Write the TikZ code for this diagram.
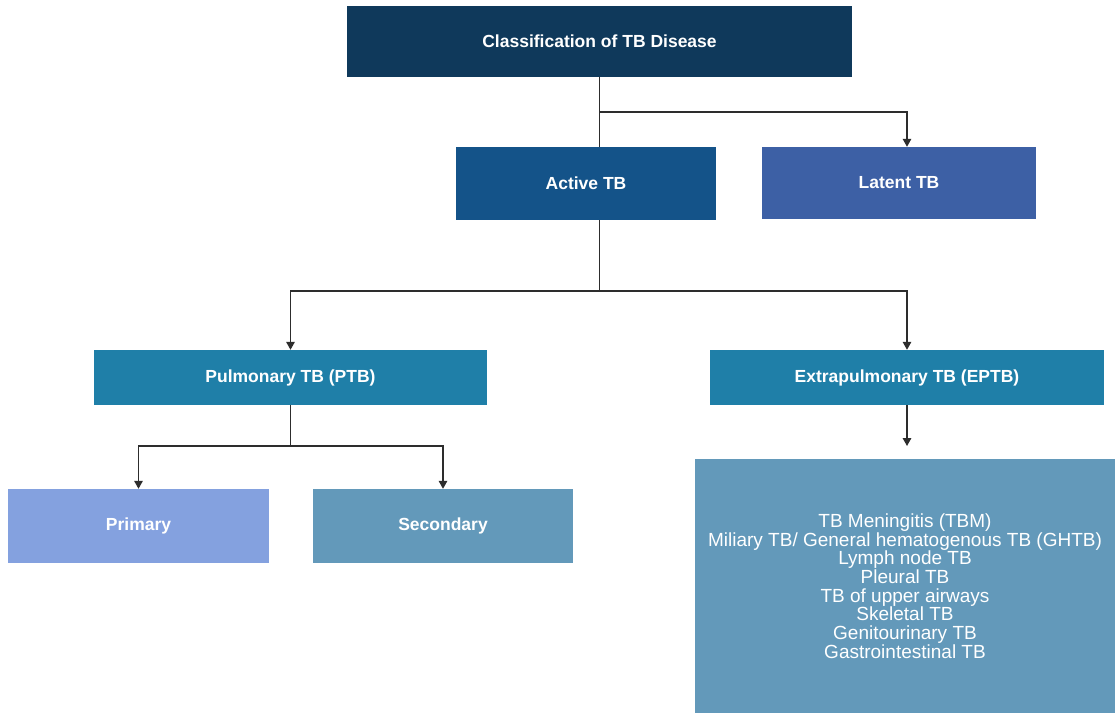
\documentclass[tikz,border=0pt]{standalone}
\usepackage{fontspec}
\setmainfont{Liberation Sans}
\usetikzlibrary{arrows.meta,calc}
\definecolor{cTop}{RGB}{15,57,91}
\definecolor{cActive}{RGB}{20,83,137}
\definecolor{cLatent}{RGB}{61,96,165}
\definecolor{cPul}{RGB}{31,127,168}
\definecolor{cPrim}{RGB}{132,161,223}
\definecolor{cSec}{RGB}{99,153,186}
\definecolor{cLine}{RGB}{45,45,45}
\tikzset{
  boxnode/.style={inner sep=0pt, text=white, align=center,
    font=\fontsize{17.5}{20}\selectfont\bfseries},
  conn/.style={draw=cLine, line width=1.5pt},
  arr/.style={conn, -{Triangle[length=8pt,width=8.5pt]}}
}
\begin{document}
\begin{tikzpicture}[x=1pt,y=-1pt]
\useasboundingbox[fill=white] (0,0) rectangle (1115,713);
\node[boxnode, fill=cTop, minimum width=505pt, minimum height=71pt] (top) at (599.5,41.5) {Classification of TB Disease};
\node[boxnode, fill=cActive, minimum width=260pt, minimum height=73pt] (active) at (586,183.5) {Active TB};
\node[boxnode, fill=cLatent, minimum width=274pt, minimum height=72pt] (latent) at (899,183) {Latent TB};
\node[boxnode, fill=cPul, minimum width=393pt, minimum height=55pt] (ptb) at (290.5,377.5) {Pulmonary TB (PTB)};
\node[boxnode, fill=cPul, minimum width=394pt, minimum height=55pt] (eptb) at (907,377.5) {Extrapulmonary TB (EPTB)};
\node[boxnode, fill=cPrim, minimum width=261pt, minimum height=74pt] (primary) at (138.5,526) {Primary};
\node[boxnode, fill=cSec, minimum width=260pt, minimum height=74pt] (secondary) at (443,526) {Secondary};
\node[boxnode, fill=cSec, minimum width=420pt, minimum height=254pt,
  font=\fontsize{19}{18.7}\selectfont] (list) at (905,586)
  {TB Meningitis (TBM)\\Miliary TB/ General hematogenous TB (GHTB)\\Lymph node TB\\Pleural TB\\TB of upper airways\\Skeletal TB\\Genitourinary TB\\Gastrointestinal TB};
\coordinate (b1) at (599.5,112);
\coordinate (b2) at (599.5,291);
\coordinate (b3) at (290.5,446);
\coordinate (e1) at (907,446);
\draw[conn] (top.south) -- (top.south |- active.north);
\draw[arr] (b1) -| (eptb.north |- latent.north);
\draw[conn] (b2 |- active.south) -- (b2);
\draw[arr] (b2) -| (ptb.north);
\draw[arr] (b2) -| (eptb.north);
\draw[conn] (ptb.south) -- (b3);
\draw[arr] (b3) -| (primary.north);
\draw[arr] (b3) -| (secondary.north);
\draw[arr] (eptb.south) -- (e1);
\end{tikzpicture}
\end{document}
